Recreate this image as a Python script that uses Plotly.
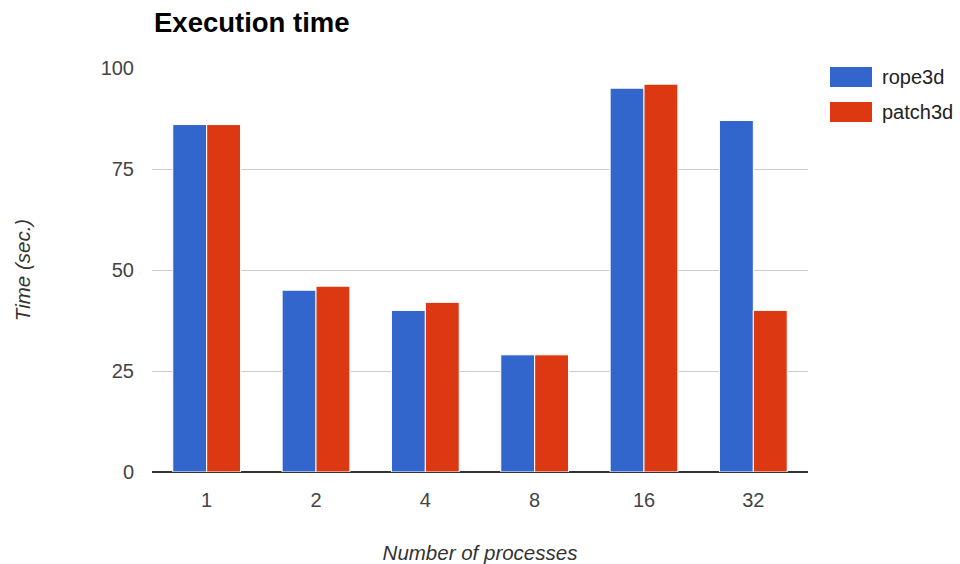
import plotly.graph_objects as go

categories = ["1", "2", "4", "8", "16", "32"]
rope3d = [86, 45, 40, 29, 95, 87]
patch3d = [86, 46, 42, 29, 96, 40]
series_names = ["rope3d", "patch3d"]
colors = ["#3366cc", "#dc3912"]
y_ticks = [0, 25, 50, 75, 100]

FONT = "Liberation Sans, Arial, sans-serif"

fig = go.Figure()
for name, vals, col in zip(series_names, [rope3d, patch3d], colors):
    fig.add_trace(go.Bar(
        x=categories, y=vals, name=name,
        marker=dict(color=col, line=dict(color="white", width=1)),
        showlegend=False,
    ))

W, H = 960, 564
L, R, T, B = 152, 152, 68, 92

# custom legend (swatches + labels)
shapes = []
annotations = []
leg_y = [77, 112]
for i, (name, col) in enumerate(zip(series_names, colors)):
    cy = leg_y[i]
    shapes.append(dict(type="rect", xref="paper", yref="paper",
                       x0=(830 - L) / (W - L - R), x1=(872 - L) / (W - L - R),
                       y0=1 - (cy + 10 - T) / (H - T - B), y1=1 - (cy - 10 - T) / (H - T - B),
                       fillcolor=col, line=dict(width=0)))
    annotations.append(dict(text=name, xref="paper", yref="paper",
                            x=(880 - L) / (W - L - R), y=1 - (cy - T) / (H - T - B),
                            xanchor="left", yanchor="middle", showarrow=False,
                            font=dict(family=FONT, size=20, color="#222222")))

fig.update_layout(
    width=W, height=H,
    margin=dict(l=L, r=R, t=T, b=B, autoexpand=False),
    paper_bgcolor="white", plot_bgcolor="white",
    barmode="group", bargap=0.38, bargroupgap=0.0,
    title=dict(text="<b>Execution time</b>", x=154 / W, xanchor="left",
               xref="container", yref="container", y=1 - 22 / H, yanchor="middle",
               font=dict(family=FONT, size=27.5, color="#000000")),
    font=dict(family=FONT, size=20, color="#444444"),
    shapes=shapes,
    annotations=annotations,
    xaxis=dict(
        type="category",
        automargin=False,
        showgrid=False,
        showline=False,
        ticks="",
        ticklabelstandoff=14,
        tickfont=dict(family=FONT, size=20, color="#444444"),
        title=dict(text="<i>Number of processes</i>", standoff=37,
                   font=dict(family=FONT, size=20.5, color="#333333")),
    ),
    yaxis=dict(
        range=[0, 100],
        automargin=False,
        tickvals=y_ticks,
        showgrid=True, gridcolor="#cccccc", gridwidth=1,
        zeroline=True, zerolinecolor="#333333", zerolinewidth=1.5,
        ticks="",
        ticklabelstandoff=17,
        tickfont=dict(family=FONT, size=20, color="#444444"),
        title=dict(text="<i>Time (sec.)</i>", standoff=64,
                   font=dict(family=FONT, size=20.5, color="#333333")),
    ),
)

fig.write_html("out.html")
